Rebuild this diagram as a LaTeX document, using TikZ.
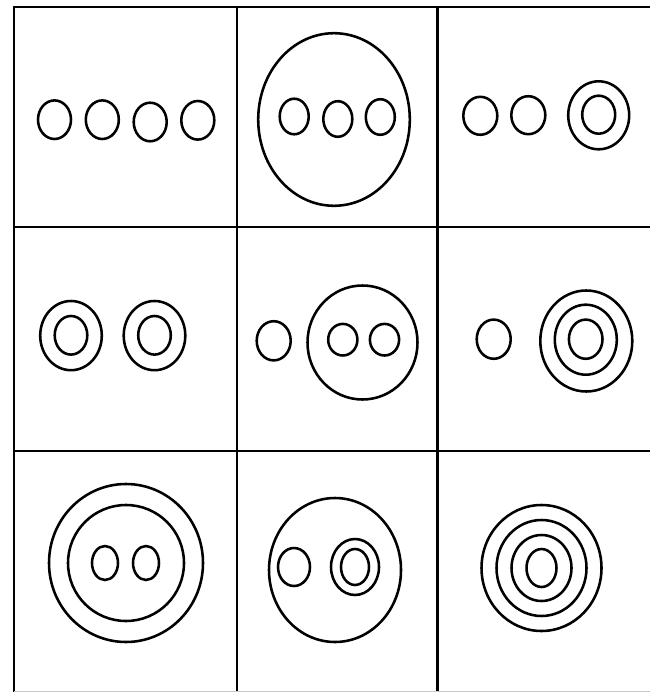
\documentclass[tikz,border=0pt]{standalone}
\usepackage{xcolor}
\usepackage{tikz}
\definecolor{Ink}{HTML}{000000}
\definecolor{Edge}{HTML}{C8C8C8}

\begin{document}
\begin{tikzpicture}[
  x=0.02cm,y=-0.02cm,
  gridline/.style={draw=Ink,line width=1.7pt},
  loop/.style={draw=Ink,line width=1.45pt}
]
\useasboundingbox (0,0) rectangle (650,692);

% 3x3 grid
\draw[gridline] (14,692) -- (14,7) -- (650,7);
\draw[gridline] (237,7) -- (237,692);
\draw[gridline] (437,7) -- (437,692);
\draw[gridline] (14,227) -- (650,227);
\draw[gridline] (14,451) -- (650,451);
\draw[draw=Edge,line width=0.8pt] (14,691.5) -- (650,691.5);

% row 1
\foreach \cx/\cy in {54.5/119.7,102.3/119.7,150.2/122,197.8/120.3}
  \draw[loop] (\cx,\cy) ellipse [x radius=16.5,y radius=19.3];

\draw[loop] (334,119.5) ellipse [x radius=75.8,y radius=86.3];
\foreach \cx/\cy in {294.2/116.5,337.8/119,380.3/117}
  \draw[loop] (\cx,\cy) ellipse [x radius=14.5,y radius=17.8];

\foreach \cx/\cy in {480.3/115.8,528.3/115.2}
  \draw[loop] (\cx,\cy) ellipse [x radius=17,y radius=19];
\draw[loop] (598.7,115.3) ellipse [x radius=30.5,y radius=34];
\draw[loop] (598.7,114.7) ellipse [x radius=16.5,y radius=19];

% row 2
\foreach \cx in {71,154.5}{
  \draw[loop] (\cx,335.6) ellipse [x radius=30.8,y radius=34.6];
  \draw[loop] (\cx,335.3) ellipse [x radius=16.3,y radius=19.3];
}

\draw[loop] (273.7,340.8) ellipse [x radius=17,y radius=19.6];
\draw[loop] (362.5,342.5) ellipse [x radius=55,y radius=57];
\foreach \cx in {342.8,384.5}
  \draw[loop] (\cx,339.7) ellipse [x radius=14.6,y radius=15.8];

\draw[loop] (493.7,339.2) ellipse [x radius=17,y radius=19.6];
\draw[loop] (586.3,341) ellipse [x radius=46,y radius=50.5];
\draw[loop] (585.8,339.7) ellipse [x radius=31,y radius=35];
\draw[loop] (585.7,339.2) ellipse [x radius=16.8,y radius=19.6];

% row 3
\draw[loop] (126,563) ellipse [x radius=77,y radius=79];
\draw[loop] (126,563) ellipse [x radius=58,y radius=58];
\foreach \cx in {105,146}
  \draw[loop] (\cx,563) ellipse [x radius=13,y radius=17];

\draw[loop] (335,570) ellipse [x radius=66,y radius=72];
\draw[loop] (294,567) ellipse [x radius=16,y radius=19];
\draw[loop] (355,567) ellipse [x radius=24,y radius=28];
\draw[loop] (355,567) ellipse [x radius=14,y radius=18];

\draw[loop] (541.5,568) ellipse [x radius=60,y radius=63];
\draw[loop] (541.5,568) ellipse [x radius=45,y radius=48];
\draw[loop] (541.5,568) ellipse [x radius=30,y radius=33];
\draw[loop] (541.5,568) ellipse [x radius=15,y radius=19];
\end{tikzpicture}
\end{document}
